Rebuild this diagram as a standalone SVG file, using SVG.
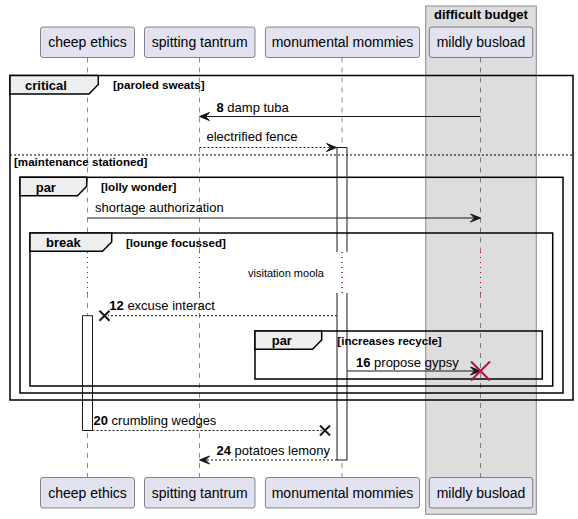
<svg xmlns="http://www.w3.org/2000/svg" width="578" height="519" viewBox="0 0 578 519">
<defs>
<style>
text{font-family:"Liberation Sans",Arial,sans-serif;fill:#000}
.pbox{fill:#E2E2F0;stroke:#181818;stroke-width:0.5}
.pname{font-size:14px;text-anchor:middle}
.life{stroke:#181818;stroke-width:0.5;stroke-dasharray:5,5;fill:none}
.delay{stroke:#A80036;stroke-width:1;stroke-dasharray:1,4;fill:none}
.frame{fill:none;stroke:#000;stroke-width:1.5}
.tab{fill:#EEEEEE;stroke:#000;stroke-width:1.5}
.ftitle{font-size:13px;font-weight:bold}
.cond{font-size:11.6px;font-weight:bold}
.msg{font-size:13px}
.num{font-weight:bold}
.solid{stroke:#181818;stroke-width:1;fill:none}
.dashed{stroke:#181818;stroke-width:1;fill:none;stroke-dasharray:2,2}
.head{fill:#181818;stroke:#181818;stroke-width:1}
.xm{stroke:#181818;stroke-width:2;fill:none}
.act{fill:#FFFFFF;stroke:none}
.actl{fill:none;stroke:#181818;stroke-width:1}
</style>
</defs>
<rect width="578" height="519" fill="#FFFFFF"/>

<g id="box-difficult-budget">
<rect x="425.7" y="6" width="110.6" height="508.3" fill="#DDDDDD" stroke="#8C8C8C" stroke-width="1"/>
<text x="481" y="19" text-anchor="middle" class="ftitle">difficult budget</text>
</g>

<g id="lifelines">
<line class="life" x1="87.5" y1="57.5" x2="87.5" y2="252"/>
<line class="life" x1="87.5" y1="293" x2="87.5" y2="477.5"/>
<line class="life" x1="199.5" y1="57.5" x2="199.5" y2="252"/>
<line class="life" x1="199.5" y1="293" x2="199.5" y2="477.5"/>
<line class="life" x1="342" y1="57.5" x2="342" y2="252"/>
<line class="life" x1="342" y1="293" x2="342" y2="477.5"/>
<line class="life" x1="480.5" y1="57.5" x2="480.5" y2="252"/>
<line class="life" x1="480.5" y1="293" x2="480.5" y2="477.5"/>
<line class="delay" x1="87.5" y1="252" x2="87.5" y2="293"/>
<line class="delay" x1="199.5" y1="252" x2="199.5" y2="293"/>
<line class="delay" x1="342" y1="252" x2="342" y2="293"/>
<line class="delay" x1="480.5" y1="252" x2="480.5" y2="293"/>
</g>

<g id="p-cheep-ethics">
<rect class="pbox" x="40.5" y="27" width="94" height="30.5" rx="2.5"/>
<text class="pname" x="87.5" y="47">cheep ethics</text>
<rect class="pbox" x="40.5" y="477.5" width="94" height="30.5" rx="2.5"/>
<text class="pname" x="87.5" y="497.5">cheep ethics</text>
<rect class="act" x="82.5" y="315.7" width="10" height="114.8"/>
<path class="actl" d="M82.5,315.7 H92.5 V430.5 H82.5 Z"/>
</g>

<g id="p-spitting-tantrum">
<rect class="pbox" x="144.5" y="27" width="110.5" height="30.5" rx="2.5"/>
<text class="pname" x="199.7" y="47">spitting tantrum</text>
<rect class="pbox" x="144.5" y="477.5" width="110.5" height="30.5" rx="2.5"/>
<text class="pname" x="199.7" y="497.5">spitting tantrum</text>
</g>

<g id="p-monumental-mommies">
<rect class="pbox" x="265.4" y="27" width="154.1" height="30.5" rx="2.5"/>
<text class="pname" x="342.5" y="47">monumental mommies</text>
<rect class="pbox" x="265.4" y="477.5" width="154.1" height="30.5" rx="2.5"/>
<text class="pname" x="342.5" y="497.5">monumental mommies</text>
<rect class="act" x="337" y="147.5" width="10" height="104.5"/>
<path class="actl" d="M337,252 V147.5 H347 V252"/>
<rect class="act" x="337" y="293" width="10" height="167"/>
<path class="actl" d="M337,293 V460 H347 V293"/>
<line class="delay" x1="342" y1="252" x2="342" y2="293"/>
</g>

<g id="p-mildly-busload">
<rect class="pbox" x="429.3" y="27" width="103.4" height="30.5" rx="2.5"/>
<text class="pname" x="481" y="47">mildly busload</text>
<rect class="pbox" x="429.3" y="477.5" width="103.4" height="30.5" rx="2.5"/>
<text class="pname" x="481" y="497.5">mildly busload</text>
</g>

<g id="frame-critical">
<rect class="frame" x="10" y="75.5" width="563" height="324.5"/>
<path class="tab" d="M10,75.5 H98.3 V84.5 L89,94 H10 Z"/>
<text class="ftitle" x="25" y="89.5">critical</text>
<text class="cond" x="113" y="89">[paroled sweats]</text>
<line x1="10" y1="155" x2="573" y2="155" stroke="#000" stroke-width="1" stroke-dasharray="2,2"/>
<text class="cond" x="14" y="166">[maintenance stationed]</text>
</g>

<g id="frame-par-lolly">
<rect class="frame" x="20" y="177.3" width="543" height="215.7"/>
<path class="tab" d="M20,177.3 H86.7 V186.3 L77.5,195.8 H20 Z"/>
<text class="ftitle" x="35.7" y="191.5">par</text>
<text class="cond" x="101" y="191">[lolly wonder]</text>
</g>

<g id="frame-break">
<rect class="frame" x="30" y="233" width="522.7" height="153"/>
<path class="tab" d="M30,233 H111.7 V242 L102.5,251.3 H30 Z"/>
<text class="ftitle" x="46" y="247">break</text>
<text class="cond" x="126" y="246.5">[lounge focussed]</text>
<text x="248" y="277" font-size="11px">visitation moola</text>
</g>

<g id="frame-par-increases">
<rect class="frame" x="255" y="331" width="287.3" height="48"/>
<path class="tab" d="M255,331 H321.7 V340 L312.5,349.3 H255 Z"/>
<text class="ftitle" x="271.7" y="345.2">par</text>
<text class="cond" x="337.3" y="344.7">[increases recycle]</text>
</g>

<g id="connectors">
<line class="solid" x1="480.5" y1="116.5" x2="201" y2="116.5"/>
<polygon class="head" points="199.5,116.5 209.5,112.5 205.5,116.5 209.5,120.5"/>
<text class="msg" x="216.5" y="111.5"><tspan class="num">8</tspan> damp tuba</text>

<line class="dashed" x1="199.5" y1="147.5" x2="335" y2="147.5"/>
<polygon class="head" points="336.5,147.5 326.5,143.5 330.5,147.5 326.5,151.5"/>
<text class="msg" x="206.5" y="141">electrified fence</text>

<line class="solid" x1="87.5" y1="218" x2="479" y2="218"/>
<polygon class="head" points="480.5,218 470.5,214 474.5,218 470.5,222"/>
<text class="msg" x="95" y="212">shortage authorization</text>

<line class="dashed" x1="337" y1="315.7" x2="108" y2="315.7"/>
<path class="xm" d="M99.5,310.7 L109.5,320.7 M109.5,310.7 L99.5,320.7"/>
<text class="msg" x="109.3" y="310"><tspan class="num">12</tspan> excuse interact</text>

<line class="solid" x1="347" y1="371" x2="479" y2="371"/>
<polygon class="head" points="480.5,371 470.5,367 474.5,371 470.5,375"/>
<path d="M471,361.5 L490,380.5 M490,361.5 L471,380.5" stroke="#B5103C" stroke-width="2" fill="none"/>
<text class="msg" x="356" y="366.5"><tspan class="num">16</tspan> propose gypsy</text>

<line class="dashed" x1="92.5" y1="430.5" x2="322" y2="430.5"/>
<path class="xm" d="M320,425.5 L330,435.5 M330,425.5 L320,435.5"/>
<text class="msg" x="93.5" y="424.5"><tspan class="num">20</tspan> crumbling wedges</text>

<line class="dashed" x1="337" y1="460" x2="201" y2="460"/>
<polygon class="head" points="199.5,460 209.5,456 205.5,460 209.5,464"/>
<text class="msg" x="216.5" y="455"><tspan class="num">24</tspan> potatoes lemony</text>
</g>
</svg>
